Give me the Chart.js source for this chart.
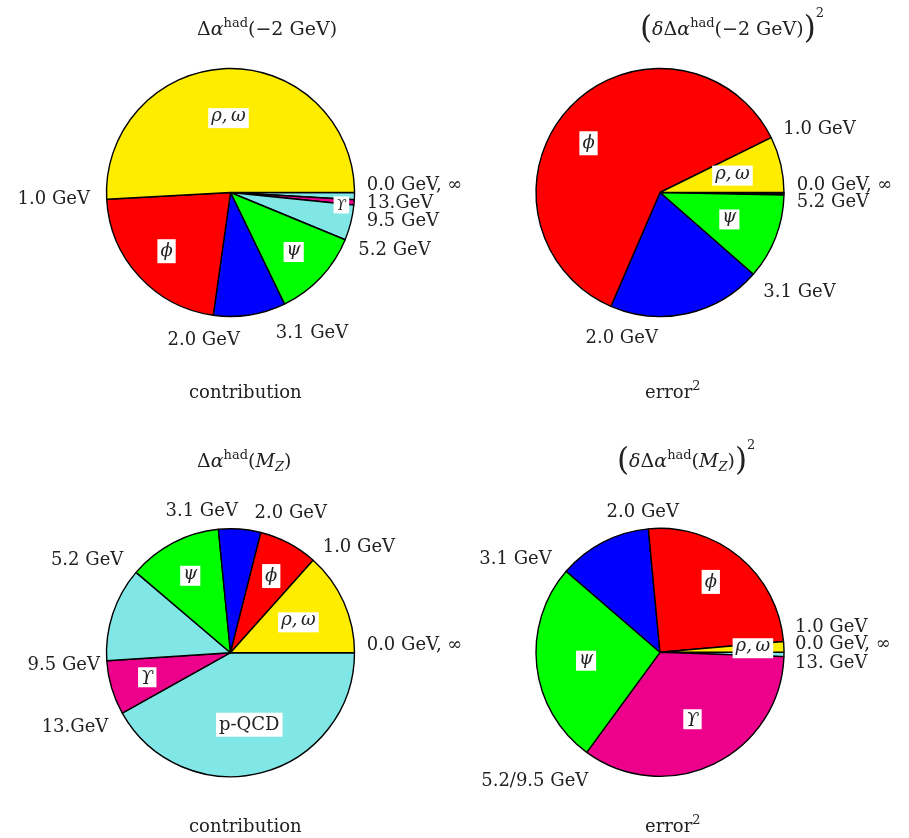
<!DOCTYPE html>
<html><head><meta charset="utf-8">
<script src="https://cdn.jsdelivr.net/npm/chart.js@4/dist/chart.umd.min.js"></script>
<style>
html,body{margin:0;padding:0;background:#fff;}
#wrap{position:relative;width:909px;height:838px;overflow:hidden;font-family:"DejaVu Serif",serif;color:#222;}
canvas{position:absolute;}
.t{position:absolute;font-size:19px;line-height:19px;white-space:nowrap;color:#222;z-index:2;}
.c{position:absolute;font-size:18px;line-height:18px;white-space:nowrap;color:#222;z-index:2;}
.t i,.c i{font-style:italic;}
.t sup,.c sup{font-size:13px;line-height:0;vertical-align:baseline;position:relative;top:-8px;}
.t sub{font-size:13px;line-height:0;vertical-align:baseline;position:relative;top:4px;}
.big{font-size:31px;line-height:0;position:relative;top:3px;}
.t sup.sq{top:-18px;}
</style></head>
<body><div id="wrap">
<canvas id="c1" width="520" height="419" style="left:0;top:0"></canvas>
<canvas id="c2" width="455" height="419" style="left:454px;top:0"></canvas>
<canvas id="c3" width="520" height="419" style="left:0;top:419px"></canvas>
<canvas id="c4" width="455" height="419" style="left:454px;top:419px"></canvas>
<div class="t" style="left:197px;top:19px">Δ<i>α</i><sup>had</sup>(−2 GeV)</div>
<div class="t" style="left:640px;top:19px"><span class="big">(</span><i>δ</i>Δ<i>α</i><sup>had</sup>(−2 GeV)<span class="big">)</span><sup class="sq">2</sup></div>
<div class="t" style="left:197px;top:451px">Δ<i>α</i><sup>had</sup>(<i>M</i><sub><i>Z</i></sub>)</div>
<div class="t" style="left:617px;top:451px"><span class="big">(</span><i>δ</i>Δ<i>α</i><sup>had</sup>(<i>M</i><sub><i>Z</i></sub>)<span class="big">)</span><sup class="sq">2</sup></div>
<div class="c" style="left:189px;top:383px">contribution</div>
<div class="c" style="left:645px;top:383px">error<sup>2</sup></div>
<div class="c" style="left:189px;top:817px">contribution</div>
<div class="c" style="left:645px;top:817px">error<sup>2</sup></div>
</div>
<script>
// ---- data (shares in %, counter-clockwise from 0.0 GeV) ----
const energyRanges = ["0.0–1.0 GeV","1.0–2.0 GeV","2.0–3.1 GeV","3.1–5.2 GeV","5.2–9.5 GeV","9.5–13 GeV","13 GeV–∞"];
const resonances = ["ρ,\u2009ω","ϕ","","ψ","","ϒ","p-QCD"];
const contribMinus2 = [50.86, 21.92, 9.39, 11.61, 4.61, 0.67, 0.94];
const errorMinus2   = [7.28, 61.25, 20.03, 11.11, 0.11, 0.17, 0.06];
const contribMZ     = [13.39, 7.67, 5.50, 12.22, 12.25, 7.08, 41.89];
const errorMZ       = [1.39, 25.11, 12.17, 26.28, 0.00, 34.50, 0.56];
const boundaryLabelsContribMinus2 = ["0.0 GeV, ∞","1.0 GeV","2.0 GeV","3.1 GeV","5.2 GeV","9.5 GeV","13.GeV"];
const boundaryLabelsErrorMinus2   = ["0.0 GeV, ∞","1.0 GeV","2.0 GeV","3.1 GeV","5.2 GeV","",""];
const boundaryLabelsContribMZ     = ["0.0 GeV, ∞","1.0 GeV","2.0 GeV","3.1 GeV","5.2 GeV","9.5 GeV","13.GeV"];
const boundaryLabelsErrorMZ       = ["0.0 GeV, ∞","1.0 GeV","2.0 GeV","3.1 GeV","5.2/9.5 GeV","","13. GeV"];

// ---- styles / layout ----
const PIE_COLORS = ["#FFED00","#FF0000","#0000FF","#00FF00","#80E6E6","#EC008C","#80E6E6"];
const FONT = '"DejaVu Serif", serif';
const layouts = [
  {w:520,h:419,cx:230.5,cy:192.5,r:124,
   inner:{0:{f:0.6},1:{f:0.7},3:{f:0.7},5:{f:0.9,da:1.8,size:14}},
   outer:{0:{dx:136.2,dy:-2.5,al:'left'},1:{dx:-140.5,dy:11.5,al:'right'},2:{dx:-26.8,dy:152.5,al:'center'},
          3:{dx:81.5,dy:145.8,al:'center'},4:{dx:127.8,dy:62.5,al:'left'},5:{dx:136.2,dy:33.5,al:'left'},6:{dx:136.2,dy:15.8,al:'left'}}},
  {w:455,h:419,cx:206,cy:192.5,r:124,
   inner:{0:{f:0.6},1:{f:0.7,da:-9},3:{f:0.6}},
   outer:{0:{dx:136.7,dy:-2.5,al:'left'},1:{dx:123.3,dy:-58.5,al:'left'},2:{dx:-38.3,dy:150.8,al:'center'},
          3:{dx:103.3,dy:104.2,al:'left'},4:{dx:136.7,dy:14.2,al:'left'}}},
  {w:520,h:419,cx:230.5,cy:233.7,r:124,
   inner:{0:{f:0.6},1:{f:0.7},3:{f:0.7},5:{f:0.7},6:{f:0.6}},
   outer:{0:{dx:136.2,dy:-2.7,al:'left'},1:{dx:92.2,dy:-101,al:'left'},2:{dx:60.3,dy:-135,al:'center'},
          3:{dx:-28.8,dy:-136.7,al:'center'},4:{dx:-107.2,dy:-87.7,al:'right'},5:{dx:-130.5,dy:17.3,al:'right'},6:{dx:-122.2,dy:79,al:'right'}}},
  {w:455,h:419,cx:206,cy:233.3,r:124,
   inner:{0:{f:0.75},1:{f:0.7,da:-4},3:{f:0.6},5:{f:0.6}},
   outer:{0:{dx:135,dy:-3,al:'left'},1:{dx:135,dy:-20.6,al:'left'},2:{dx:-17.2,dy:-135.6,al:'center'},
          3:{dx:-108.3,dy:-88.3,al:'right'},4:{dx:-71.7,dy:133.7,al:'right'},6:{dx:135,dy:16,al:'left'}}}
];

function labelPlugin(L, bLabels){
  return {id:'pieLabels', afterDatasetsDraw(chart){
    const ctx = chart.ctx, arcs = chart.getDatasetMeta(0).data, n = arcs.length;
    const cx = arcs[0].x, cy = arcs[0].y, r = arcs[0].outerRadius;
    ctx.save();
    for (const key of Object.keys(L.inner)){
      const k = +key, s = L.inner[key], el = arcs[n-1-k];
      const a = (el.startAngle + el.endAngle)/2 + (s.da||0)*Math.PI/180;
      const px = cx + s.f*r*Math.cos(a), py = cy + s.f*r*Math.sin(a);
      const txt = resonances[k];
      ctx.font = (txt === 'p-QCD' ? '' : 'italic ') + (s.size||18) + 'px ' + FONT;
      const m = ctx.measureText(txt);
      const asc = m.actualBoundingBoxAscent, desc = m.actualBoundingBoxDescent, w = m.width;
      const by = py + (asc - desc)/2;
      ctx.fillStyle = '#fff';
      ctx.fillRect(px - w/2 - 3, by - asc - 3, w + 6, asc + desc + 6);
      ctx.fillStyle = '#222';
      ctx.textAlign = 'center'; ctx.textBaseline = 'alphabetic';
      ctx.fillText(txt, px, by);
    }
    ctx.font = '18px ' + FONT;
    ctx.fillStyle = '#222';
    ctx.textBaseline = 'alphabetic';
    for (const key of Object.keys(L.outer)){
      const s = L.outer[key], txt = bLabels[+key];
      if (!txt) continue;
      ctx.textAlign = s.al;
      ctx.fillText(txt, cx + s.dx, cy + s.dy);
    }
    ctx.restore();
  }};
}

function makePie(id, values, bLabels, L){
  const pad = 6;
  new Chart(document.getElementById(id), {
    type:'pie',
    data:{
      labels: energyRanges.slice().reverse(),
      datasets:[{data: values.slice().reverse(), backgroundColor: PIE_COLORS.slice().reverse(),
                 borderColor:'#000', borderWidth:1.4}]
    },
    options:{
      responsive:false, animation:false, events:[], rotation:90, radius:L.r,
      layout:{padding:{left:L.cx-L.r-pad, top:L.cy-L.r-pad, right:L.w-(L.cx+L.r+pad), bottom:L.h-(L.cy+L.r+pad)}},
      plugins:{legend:{display:false}, tooltip:{enabled:false}, title:{display:false}}
    },
    plugins:[labelPlugin(L, bLabels)]
  });
}

makePie('c1', contribMinus2, boundaryLabelsContribMinus2, layouts[0]);
makePie('c2', errorMinus2,   boundaryLabelsErrorMinus2,   layouts[1]);
makePie('c3', contribMZ,     boundaryLabelsContribMZ,     layouts[2]);
makePie('c4', errorMZ,       boundaryLabelsErrorMZ,       layouts[3]);
</script>
</body></html>
